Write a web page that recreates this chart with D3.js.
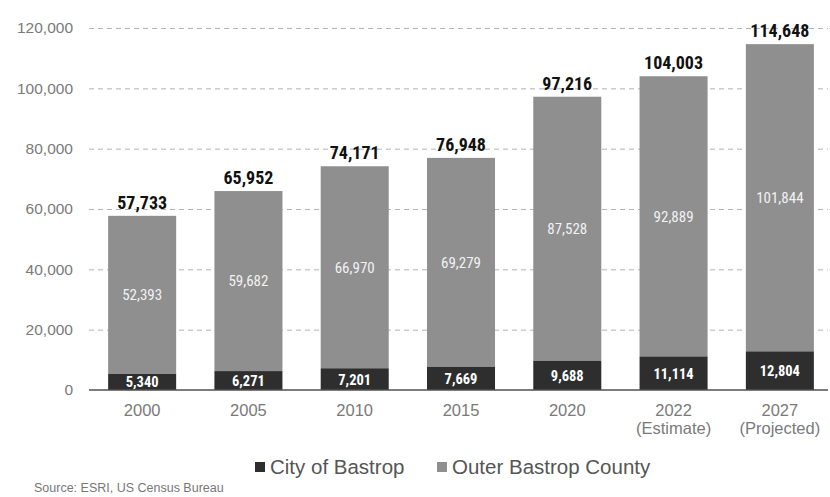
<!DOCTYPE html>
<html lang="en">
<head>
  <meta charset="UTF-8">
  <title>Bastrop population</title>
  <style>
    body { margin: 0; background: #fff; font-family: "Liberation Sans", Arial, sans-serif; }
    .grid line { stroke: #b3b3b3; stroke-dasharray: 5,4; }
    .grid path { display: none; }
    .y.axis text { fill: #7a7a7a; font-size: 15.5px; font-family: "Liberation Sans", Arial, sans-serif; }
    .x.axis text { fill: #7a7a7a; font-size: 16.5px; }
    .cond { font-family: "Liberation Sans Narrow", "Arial Narrow", "Roboto Condensed", sans-serif; font-stretch: condensed; }
  </style>
  <script src="https://d3js.org/d3.v7.min.js"></script>
</head>
<body>
  <div id="chart"></div>
  <script>
    var years = ['2000', '2005', '2010', '2015', '2020', '2022', '2027'];
    var subLabels = ['', '', '', '', '', '(Estimate)', '(Projected)'];
    var city = [5340, 6271, 7201, 7669, 9688, 11114, 12804];
    var outer = [52393, 59682, 66970, 69279, 87528, 92889, 101844];
    var totals = [57733, 65952, 74171, 76948, 97216, 104003, 114648];
    var yTicks = [0, 20000, 40000, 60000, 80000, 100000, 120000];
    var seriesNames = ['City of Bastrop', 'Outer Bastrop County'];

    var width = 830, height = 497;
    var colors = { city: '#2e2e2e', outer: '#8f8f8f' };
    var fmt = d3.format(',');

    var svg = d3.select('#chart').append('svg')
      .attr('width', width).attr('height', height);

    var x = d3.scaleBand().domain(years).range([89, 833]).paddingInner(0.36).paddingOuter(0.18);
    var y = d3.scaleLinear().domain([0, 120000]).range([390, 28]);

    // dashed gridlines
    svg.append('g').attr('class', 'grid')
      .attr('transform', 'translate(89,0)')
      .call(d3.axisLeft(y).tickValues(yTicks.slice(1)).tickSize(-739).tickFormat(''));

    // y labels
    var yAxis = svg.append('g').attr('class', 'y axis')
      .attr('transform', 'translate(76,0)')
      .call(d3.axisLeft(y).tickValues(yTicks).tickSize(0).tickFormat(fmt));
    yAxis.select('.domain').remove();

    var rows = years.map(function(d, i) {
      return { year: d, sub: subLabels[i], city: city[i], outer: outer[i], total: totals[i] };
    });

    var bars = svg.append('g').selectAll('g').data(rows).enter().append('g');

    bars.append('rect')
      .attr('x', function(d) { return x(d.year); })
      .attr('width', x.bandwidth())
      .attr('y', function(d) { return y(d.city + d.outer); })
      .attr('height', function(d) { return y(d.city) - y(d.city + d.outer); })
      .attr('fill', colors.outer);

    bars.append('rect')
      .attr('x', function(d) { return x(d.year); })
      .attr('width', x.bandwidth())
      .attr('y', function(d) { return y(d.city); })
      .attr('height', function(d) { return y(0) - y(d.city); })
      .attr('fill', colors.city);

    // segment labels
    bars.append('text').attr('class', 'cond')
      .attr('x', function(d) { return x(d.year) + x.bandwidth() / 2; })
      .attr('y', function(d) { return (y(d.city) + y(d.city + d.outer)) / 2; })
      .attr('dy', '0.35em')
      .attr('text-anchor', 'middle')
      .attr('fill', '#f2f2f2').style('font-size', '15px')
      .text(function(d) { return fmt(d.outer); });

    bars.append('text').attr('class', 'cond')
      .attr('x', function(d) { return x(d.year) + x.bandwidth() / 2; })
      .attr('y', function(d) { return (y(0) + y(d.city)) / 2; })
      .attr('dy', '0.38em')
      .attr('text-anchor', 'middle')
      .attr('fill', '#fff').style('font-size', '14.5px').style('font-weight', 'bold')
      .text(function(d) { return fmt(d.city); });

    // totals
    bars.append('text').attr('class', 'cond')
      .attr('x', function(d) { return x(d.year) + x.bandwidth() / 2; })
      .attr('y', function(d) { return y(d.total) - 7; })
      .attr('text-anchor', 'middle')
      .attr('fill', '#111').style('font-size', '18px').style('font-weight', 'bold')
      .text(function(d) { return fmt(d.total); });

    // baseline
    svg.append('line')
      .attr('x1', 89).attr('x2', 828)
      .attr('y1', y(0)).attr('y2', y(0))
      .attr('stroke', '#505050').attr('stroke-width', 1.5);

    // x labels
    var xl = svg.append('g').attr('class', 'x axis');
    xl.selectAll('text.yr').data(rows).enter().append('text')
      .attr('x', function(d) { return x(d.year) + x.bandwidth() / 2; })
      .attr('y', 416)
      .attr('text-anchor', 'middle')
      .text(function(d) { return d.year; });
    xl.selectAll('text.sub').data(rows.filter(function(d) { return d.sub; })).enter().append('text')
      .attr('x', function(d) { return x(d.year) + x.bandwidth() / 2; })
      .attr('y', 434)
      .attr('text-anchor', 'middle')
      .text(function(d) { return d.sub; });

    // legend
    var legend = svg.append('g').attr('transform', 'translate(255,462)');
    var lx = [0, 182];
    var lc = [colors.city, colors.outer];
    seriesNames.forEach(function(name, i) {
      legend.append('rect').attr('x', lx[i]).attr('y', 0).attr('width', 10).attr('height', 10).attr('fill', lc[i]);
      legend.append('text').attr('x', lx[i] + 15).attr('y', 12)
        .attr('fill', '#555').style('font-size', '20.5px').text(name);
    });

    svg.append('text').attr('x', 34).attr('y', 492)
      .attr('fill', '#777').style('font-size', '12.5px')
      .text('Source: ESRI, US Census Bureau');
  </script>
</body>
</html>
